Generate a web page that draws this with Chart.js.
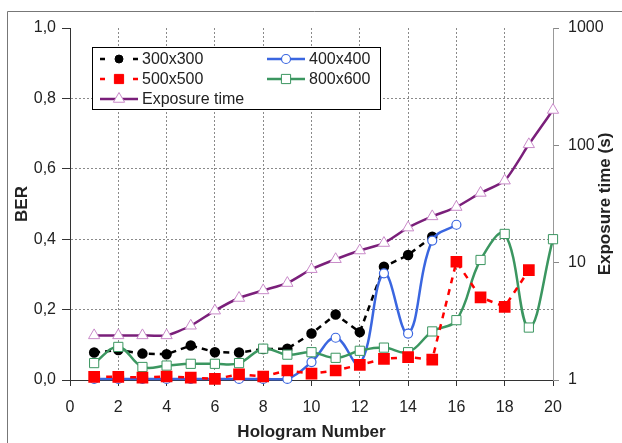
<!DOCTYPE html>
<html>
<head>
<meta charset="utf-8">
<script src="https://cdn.jsdelivr.net/npm/chart.js@4/dist/chart.umd.min.js"></script>
<style>
  body { margin: 0; background: #fff; }
  #wrap { width: 622px; height: 443px; position: relative; }
</style>
</head>
<body>
<div id="wrap"><canvas id="myChart"></canvas></div>
<script>
// values
const holograms = [1,2,3,4,5,6,7,8,9,10,11,12,13,14,15,16,17,18,19,20]
const ber300 = [0.078,0.085,0.075,0.073,0.098,0.079,0.078,0.088,0.089,0.132,0.186,0.136,0.322,0.355,0.407,null,null,null,null,null]
const ber400 = [0.003,0.003,0.003,0.003,0.003,0.003,0.003,0.003,0.003,0.051,0.12,0.045,0.303,0.132,0.396,0.441,null,null,null,null]
const ber500 = [0.009,0.009,0.007,0.01,0.007,0.003,0.016,0.01,0.027,0.018,0.027,0.043,0.06,0.065,0.058,0.336,0.235,0.208,0.312,null]
const ber800 = [0.048,0.094,0.037,0.041,0.046,0.046,0.048,0.089,0.072,0.079,0.063,0.083,0.092,0.079,0.138,0.17,0.341,0.415,0.149,0.4]
const exposure = [2.4,2.4,2.4,2.4,2.9,3.9,5.0,5.8,6.7,8.8,10.7,12.7,14.7,19.9,24.8,29.8,39.3,50,102,200]
const berTicks = [0,0.2,0.4,0.6,0.8,1.0]
const timeTicks = [1,10,100,1000]

const FONT = '"Liberation Sans", Arial, sans-serif'
Chart.defaults.font.family = FONT
Chart.defaults.color = '#222'

function pts(arr) {
    let out = []
    arr.forEach((v, i) => { if (v !== null) out.push({x: holograms[i], y: v}) })
    return out
}

const PURPLE = '#7a1f7a', BLUE = '#3a66e0', GREEN = '#3b9660', RED = '#ff0000'

const datasets = [
    {label: '300x300', data: pts(ber300), yAxisID: 'y', order: 4,
     borderColor: '#000', borderWidth: 2.5, borderDash: [6, 5], tension: 0,
     pointStyle: 'circle', pointRadius: 4, pointBackgroundColor: '#000', pointBorderColor: '#000', mark: 'circle'},
    {label: '400x400', data: pts(ber400), yAxisID: 'y', order: 3,
     borderColor: BLUE, borderWidth: 2.5, tension: 0.4,
     pointStyle: 'circle', pointRadius: 4.5, pointBackgroundColor: '#fff', pointBorderColor: BLUE, pointBorderWidth: 1.2, mark: 'circle'},
    {label: '500x500', data: pts(ber500), yAxisID: 'y', order: 1,
     borderColor: RED, borderWidth: 2.5, borderDash: [6, 6], tension: 0,
     pointStyle: 'rect', pointRadius: 6.5, pointBackgroundColor: RED, pointBorderColor: RED, mark: 'rect'},
    {label: '800x600', data: pts(ber800), yAxisID: 'y', order: 2,
     borderColor: GREEN, borderWidth: 2.5, tension: 0.4,
     pointStyle: 'rect', pointRadius: 6.5, pointBackgroundColor: '#fff', pointBorderColor: GREEN, pointBorderWidth: 1, mark: 'rect'},
    {label: 'Exposure time', data: pts(exposure), yAxisID: 'y2', order: 5,
     borderColor: PURPLE, borderWidth: 2.5, tension: 0.2,
     pointStyle: 'triangle', pointRadius: 6.5, pointBackgroundColor: '#fff', pointBorderColor: '#c98ac9', pointBorderWidth: 1, mark: 'triangle'}
]
datasets.forEach(d => { d.clip = 12; d.fill = false })

function drawMark(c, kind, x, y, r, fill, stroke, lw) {
    c.beginPath()
    if (kind === 'circle') {
        c.arc(x, y, r, 0, Math.PI * 2)
    } else if (kind === 'rect') {
        let s = r * Math.SQRT1_2
        c.rect(x - s, y - s, 2 * s, 2 * s)
    } else {
        let a = 0
        c.moveTo(x + Math.sin(a) * r, y - Math.cos(a) * r)
        a += Math.PI * 2 / 3
        c.lineTo(x + Math.sin(a) * r, y - Math.cos(a) * r)
        a += Math.PI * 2 / 3
        c.lineTo(x + Math.sin(a) * r, y - Math.cos(a) * r)
        c.closePath()
    }
    c.fillStyle = fill
    c.fill()
    c.lineWidth = lw || 1
    c.strokeStyle = stroke
    c.stroke()
}

const extras = {
    id: 'extras',
    afterDraw(chart) {
        const c = chart.ctx
        const area = chart.chartArea
        c.save()
        // outer frame
        c.strokeStyle = '#777'
        c.lineWidth = 1
        c.beginPath()
        c.moveTo(7.5, 443); c.lineTo(7.5, 11.5); c.lineTo(622, 11.5)
        c.stroke()

        // legend box
        c.fillStyle = '#fff'
        c.fillRect(92.5, 47.5, 288, 62)
        c.strokeStyle = '#000'
        c.strokeRect(92.5, 47.5, 288, 62)
        const slots = [[119, 59], [286, 59], [119, 79], [286, 79], [119, 99]]
        datasets.forEach((d, i) => {
            const [cx, cy] = slots[i]
            c.save()
            c.strokeStyle = d.borderColor
            c.lineWidth = d.borderWidth
            c.beginPath()
            if (d.borderDash) {
                c.moveTo(cx - 19, cy); c.lineTo(cx - 14, cy)
                c.moveTo(cx + 14, cy); c.lineTo(cx + 19, cy)
            } else {
                c.moveTo(cx - 19, cy); c.lineTo(cx + 19, cy)
            }
            c.stroke()
            drawMark(c, d.mark, cx, cy, d.pointRadius, d.pointBackgroundColor, d.pointBorderColor, d.pointBorderWidth)
            c.restore()
            c.fillStyle = '#222'
            c.font = '16px ' + FONT
            c.textBaseline = 'middle'
            c.textAlign = 'left'
            c.fillText(d.label, cx + 23, cy + 1)
        })

        // right axis title, read bottom to top
        c.translate(605, (area.top + area.bottom) / 2)
        c.rotate(-Math.PI / 2)
        c.font = 'bold 17px ' + FONT
        c.fillStyle = '#222'
        c.textAlign = 'center'
        c.textBaseline = 'middle'
        c.fillText('Exposure time (s)', 0, 0)
        c.restore()
    }
}

const ctx = document.getElementById('myChart').getContext('2d')
new Chart(ctx, {
    type: 'line',
    data: {datasets: datasets},
    plugins: [extras],
    options: {
        responsive: true,
        maintainAspectRatio: false,
        animation: false,
        layout: {padding: {top: 28, left: 0, right: 0, bottom: 0}},
        plugins: {legend: {display: false}, tooltip: {enabled: false}},
        scales: {
            x: {
                type: 'linear', min: 0, max: 20,
                afterFit: s => { s.height = 63 },
                ticks: {stepSize: 2, padding: 12, font: {size: 16}, color: '#222'},
                grid: {
                    color: t => (t.tick && (t.tick.value === 0 || t.tick.value === 20)) ? 'rgba(0,0,0,0)' : '#8a8a8a',
                    tickColor: '#333', tickLength: 6, lineWidth: 1
                },
                border: {color: '#333', dash: [2, 2]},
                title: {display: true, text: 'Hologram Number', font: {size: 17, weight: 'bold'}, color: '#222', padding: {top: 0, bottom: 0}}
            },
            y: {
                position: 'left', min: 0, max: 1,
                afterFit: s => { s.width = 70 },
                afterBuildTicks: s => { s.ticks = berTicks.map(v => ({value: v})) },
                ticks: {padding: 6, font: {size: 16}, color: '#222',
                        callback: v => v.toFixed(1).replace('.', ',')},
                grid: {
                    color: t => (t.tick && (t.tick.value === 0 || t.tick.value === 1)) ? 'rgba(0,0,0,0)' : '#8a8a8a',
                    tickColor: '#333', tickLength: 8, lineWidth: 1
                },
                border: {color: '#333', dash: [2, 2]},
                title: {display: true, text: 'BER', font: {size: 17, weight: 'bold'}, color: '#222', padding: {top: 12, bottom: 0}}
            },
            y2: {
                type: 'logarithmic', position: 'right', min: 1, max: 1000,
                afterFit: s => { s.width = 69 },
                afterBuildTicks: s => { s.ticks = timeTicks.map(v => ({value: v})) },
                ticks: {padding: 9, font: {size: 16}, color: '#222', callback: v => String(v)},
                grid: {drawOnChartArea: false, tickColor: '#888', tickLength: 6},
                border: {color: '#999'}
            }
        }
    }
})
</script>
</body>
</html>
